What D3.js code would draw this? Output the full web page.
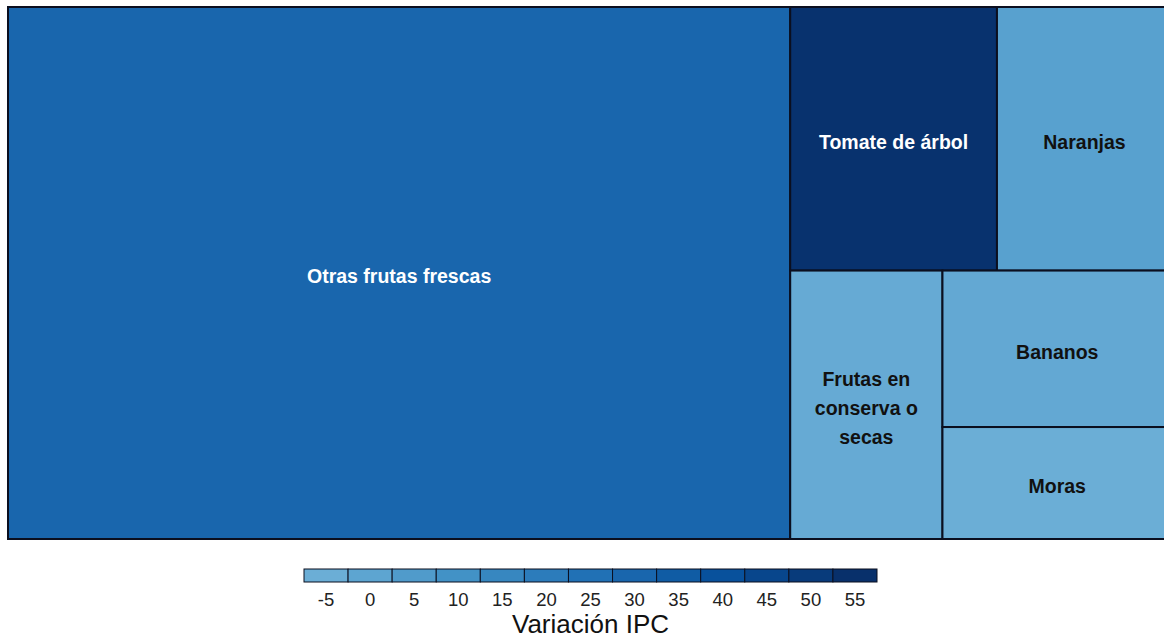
<!DOCTYPE html>
<html>
<head>
<meta charset="utf-8">
<script src="https://cdn.jsdelivr.net/npm/d3@7"></script>
<style>
  html, body { margin: 0; padding: 0; background: #ffffff; overflow: hidden; }
  svg { display: block; }
</style>
</head>
<body>
<svg id="chart" width="1164" height="638"></svg>
<script>
// ---- data ----
const categories = ["Otras frutas frescas", "Tomate de árbol", "Naranjas", "Frutas en conserva o secas", "Bananos", "Moras"];
const weights = [67.2, 8.8, 7.45, 6.6, 5.8, 4.15];
const variacion = [30, 54, 2, -3, -2, -5];
const legendTicks = [-5, 0, 5, 10, 15, 20, 25, 30, 35, 40, 45, 50, 55];
const legendTitle = "Variación IPC";

// ---- layout ----
const tm = { x0: 8, y0: 7, x1: 1172, y1: 539 };
const svg = d3.select("#chart");

const color = d3.scaleLinear()
  .domain([-5, 10, 25, 40, 55])
  .range(["#6baed6", "#4292c6", "#2171b5", "#08519c", "#08306b"])
  .clamp(true);

const rootData = {
  name: "root",
  children: categories.map((c, i) => ({ name: c, value: weights[i], v: variacion[i] }))
};
const root = d3.hierarchy(rootData).sum(d => d.value || 0).sort((a, b) => b.value - a.value);
d3.treemap()
  .tile(d3.treemapSquarify.ratio(1))
  .size([tm.x1 - tm.x0, tm.y1 - tm.y0])
  .round(false)(root);

const g = svg.append("g").attr("transform", `translate(${tm.x0},${tm.y0})`);
const leaves = g.selectAll("g.leaf").data(root.leaves()).join("g").attr("class", "leaf");

leaves.append("rect")
  .attr("x", d => d.x0).attr("y", d => d.y0)
  .attr("width", d => d.x1 - d.x0).attr("height", d => d.y1 - d.y0)
  .attr("fill", d => color(d.data.v))
  .attr("stroke", "#0b0f1f").attr("stroke-width", 2);

const fontSize = 19.5, lineH = 29;
const ctx = document.createElement("canvas").getContext("2d");
ctx.font = `bold ${fontSize}px "Liberation Sans", Arial, sans-serif`;
function wrap(text, maxW) {
  const words = text.split(" ");
  const lines = [];
  let cur = "";
  words.forEach(w => {
    const t = cur ? cur + " " + w : w;
    if (ctx.measureText(t).width > maxW && cur) { lines.push(cur); cur = w; }
    else cur = t;
  });
  if (cur) lines.push(cur);
  return lines;
}

leaves.each(function(d) {
  const sel = d3.select(this);
  const cx = (d.x0 + d.x1) / 2, cy = (d.y0 + d.y1) / 2 + 3;
  const lines = wrap(d.data.name, d.x1 - d.x0 - 14);
  const txt = sel.append("text")
    .attr("text-anchor", "middle")
    .attr("font-family", '"Liberation Sans", Arial, sans-serif')
    .attr("font-weight", "bold")
    .attr("font-size", fontSize)
    .attr("fill", d.data.v > 20 ? "#ffffff" : "#111111");
  const startY = cy - (lines.length - 1) * lineH / 2;
  lines.forEach((l, i) => {
    txt.append("tspan").attr("x", cx).attr("y", startY + i * lineH).attr("dy", "0.35em").text(l);
  });
});

// ---- legend ----
const lx = d3.scaleBand().domain(legendTicks).range([304, 877]).padding(0);
const lg = svg.append("g");
lg.selectAll("rect").data(legendTicks).join("rect")
  .attr("x", d => lx(d)).attr("y", 569)
  .attr("width", lx.bandwidth()).attr("height", 13)
  .attr("fill", d => color(d))
  .attr("stroke", "#0b0f1f").attr("stroke-width", 1);
lg.selectAll("text.tick").data(legendTicks).join("text")
  .attr("class", "tick")
  .attr("x", d => lx(d) + lx.bandwidth() / 2).attr("y", 606)
  .attr("text-anchor", "middle")
  .attr("font-family", '"Liberation Sans", Arial, sans-serif')
  .attr("font-size", 18.5).attr("fill", "#222222")
  .text(d => d);
lg.append("text")
  .attr("x", (304 + 877) / 2).attr("y", 633)
  .attr("text-anchor", "middle")
  .attr("font-family", '"Liberation Sans", Arial, sans-serif')
  .attr("font-size", 26).attr("fill", "#111111")
  .text(legendTitle);
</script>
</body>
</html>
